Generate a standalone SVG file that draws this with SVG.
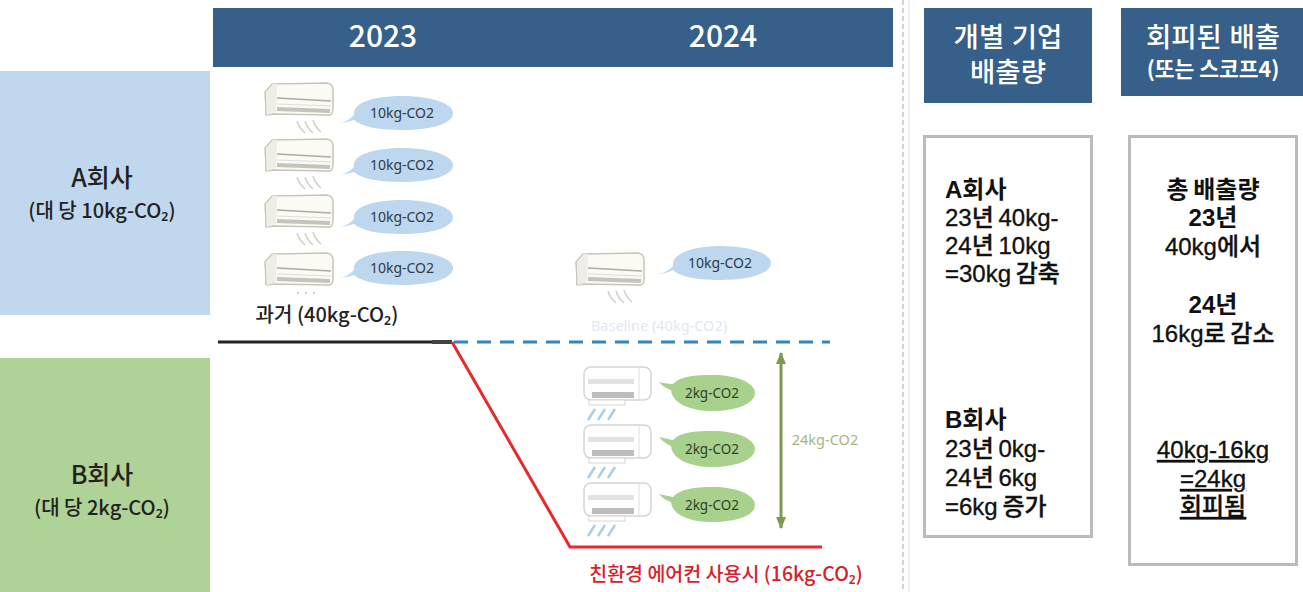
<svg xmlns="http://www.w3.org/2000/svg" xmlns:xlink="http://www.w3.org/1999/xlink" width="1303" height="592" viewBox="0 0 1303 592">
<style>
text{font-family:"Noto Sans CJK KR","Noto Sans",sans-serif;text-anchor:middle;fill:#111}
.hd{fill:#fff;font-size:30px;font-weight:500}
.hk{fill:#fff;font-size:27.500px;font-weight:500;font-family:"Liberation Sans","Noto Sans CJK KR",sans-serif}
.hs{fill:#fff;font-size:21.500px;font-weight:700}
.co{font-size:25px;font-weight:500;fill:#222}
.cs{font-size:20px;font-weight:500;fill:#222}
.bt{font-size:14px;fill:#2f3b4a;font-family:"Noto Sans",sans-serif}
.gt{font-size:13.500px;fill:#2c3f24;font-family:"Noto Sans",sans-serif}
.bd{font-size:24px;font-weight:500;word-spacing:-2px;font-family:"Liberation Sans","Noto Sans CJK KR",sans-serif;stroke:#111;stroke-width:0.350px}
.l{text-anchor:start}
.b{font-weight:700;stroke-width:0}
.hdb{fill:#365f8a}
.box{fill:#fff;stroke:#bbb;stroke-width:3}
.wb{fill:none;stroke:#cfcfcc;stroke-width:1.500}
.wg{fill:none;stroke:#a9cfe6;stroke-width:2.500}
.soft{filter:url(#soft)}
</style>
<defs>
<filter id="soft" x="-5%" y="-5%" width="110%" height="110%"><feGaussianBlur stdDeviation="0.500"/></filter>
<marker id="ah" viewBox="0 0 12 10" refX="11" refY="5" markerWidth="12" markerHeight="10" markerUnits="userSpaceOnUse" orient="auto-start-reverse"><path d="M0 0L12 5L0 10Z" fill="#7d9a50"/></marker>
<g id="acA">
<path d="M7 2L62 1Q68 2 68 8V27Q68 34 62 33L8 32L2 33Q0 33 1 28L0 10Z" fill="#fbfaf3" stroke="#c6c6bd" stroke-width="1.500"/>
<path d="M1 10L8 2L12 2L11 30L2 33Z" fill="#eeeee6"/>
<path d="M12 16L66 19" stroke="#aaa" stroke-width="1.500" fill="none"/>
<path d="M12 22L66 24" stroke="#ddd" stroke-width="1" fill="none"/>
<path d="M12 27L65 29" stroke="#c4c4bd" stroke-width="4" fill="none"/>
</g>
<g id="acB">
<rect x="0" y="0" width="67" height="33" rx="7" fill="#fff" stroke="#d5d5d5" stroke-width="1.500"/>
<path d="M55 0.500V32" stroke="#dedede" stroke-width="1"/>
<rect x="4" y="12" width="46" height="5" fill="#e2e2e2"/>
<rect x="8" y="25" width="42" height="6" fill="#bdbdbd"/>
<rect x="5" y="33" width="36" height="5" fill="#fff" stroke="#d5d5d5"/>
<path d="M4 53L11 42M14 53L21 42M24 53L31 42" class="wg"/>
</g>
<path id="wind" d="M0 0Q2 7 8 12M8 0Q10 7 16 12M16 -1Q18 6 24 11" class="wb"/>
</defs>
<rect width="1303" height="592" fill="#fff"/>

<g id="header-years">
<rect class="hdb" x="213" y="8" width="680" height="59"/>
<text class="hd" x="383" y="47">2023</text>
<text class="hd" x="723" y="47">2024</text>
</g>
<g id="company-a">
<rect x="0" y="71" width="210" height="244" fill="#c1d7ed"/>
<text class="co" x="102" y="187">A회사</text>
<text class="cs" x="102" y="218">(대 당 10kg-CO₂)</text>
</g>
<g id="company-b">
<rect x="0" y="358" width="210" height="234" fill="#afd296"/>
<text class="co" x="102" y="484">B회사</text>
<text class="cs" x="102" y="515">(대 당 2kg-CO₂)</text>
</g>

<g id="ac-2023">
<g class="soft"><use xlink:href="#acA" x="265" y="82"/><use xlink:href="#wind" x="297" y="121"/>
<use xlink:href="#acA" x="265" y="138"/><use xlink:href="#wind" x="297" y="177"/>
<use xlink:href="#acA" x="265" y="194"/><use xlink:href="#wind" x="297" y="233"/>
<use xlink:href="#acA" x="265" y="252"/>
<path d="M297 293h2M305 293h2M313 293h2" stroke="#cfcfcc" stroke-width="2"/>
<path d="M338 123Q348 122 354 115C352 102 376 96 402 96C430 96 453 103 453 113C453 124 430 130 402 130C380 130 362 127 354 120Q346 123 338 123Z" fill="#bdd7ee"/>
<path d="M338 175Q348 174 354 167C352 154 376 148 402 148C430 148 453 155 453 165C453 176 430 182 402 182C380 182 362 179 354 172Q346 175 338 175Z" fill="#bdd7ee"/>
<path d="M338 227Q348 226 354 219C352 206 376 200 402 200C430 200 453 207 453 217C453 228 430 234 402 234C380 234 362 231 354 224Q346 227 338 227Z" fill="#bdd7ee"/>
<path d="M338 278Q348 277 354 270C352 257 376 251 402 251C430 251 453 258 453 268C453 279 430 285 402 285C380 285 362 282 354 275Q346 278 338 278Z" fill="#bdd7ee"/></g>
<text class="bt" x="402" y="118">10kg-CO2</text>
<text class="bt" x="402" y="170">10kg-CO2</text>
<text class="bt" x="402" y="222">10kg-CO2</text>
<text class="bt" x="402" y="273">10kg-CO2</text>
<text class="cs" x="327" y="322">과거 (40kg-CO₂)</text>
</g>

<g id="ac-2024-baseline">
<g class="soft"><use xlink:href="#acA" x="576" y="252"/><use xlink:href="#wind" x="608" y="291"/>
<path d="M657 274Q667 273 673 266C671 253 695 246 720 246C748 246 771 253 771 263C771 274 748 280 720 280C698 280 680 277 673 270Q665 274 657 274Z" fill="#bdd7ee"/></g>
<text class="bt" x="720" y="268">10kg-CO2</text>
<text x="659" y="331" style="font-size:14.500px;fill:#dfe8f3;font-family:'Noto Sans',sans-serif">Baseline (40kg-CO2)</text>
</g>

<g id="ac-2024-green">
<g class="soft"><use xlink:href="#acB" x="584" y="367"/>
<path d="M659 382Q668 384 673 384C680 376 695 375 712 375C738 375 755 383 755 393C755 403 738 411 712 411C690 411 672 403 671 390Q664 388 659 382Z" fill="#a9d18e"/>
<use xlink:href="#acB" x="584" y="425"/>
<path d="M659 437Q668 439 673 440C680 432 695 431 712 431C738 431 755 439 755 449C755 459 738 467 712 467C690 467 672 459 671 446Q664 443 659 437Z" fill="#a9d18e"/>
<use xlink:href="#acB" x="584" y="483"/>
<path d="M659 494Q668 496 673 497C680 489 695 487 712 487C738 487 755 495 755 505C755 515 738 522 712 522C690 522 672 515 671 502Q664 500 659 494Z" fill="#a9d18e"/></g>
<text class="gt" x="712" y="398">2kg-CO2</text>
<text class="gt" x="712" y="454">2kg-CO2</text>
<text class="gt" x="712" y="510">2kg-CO2</text>
</g>

<g id="connectors" fill="none">
<path d="M218 342H452" stroke="#222" stroke-width="3"/>
<path d="M432 342H452" stroke="#444" stroke-width="4"/>
<path d="M454 342H830" stroke="#2f86c4" stroke-width="3" stroke-dasharray="14 9"/>
<path d="M452 342L570 547H822" stroke="#e8282e" stroke-width="3"/>
<path d="M781 353V528" stroke="#7d9a50" stroke-width="3" marker-start="url(#ah)" marker-end="url(#ah)"/>
<path d="M903 0V592" stroke="#aaa" stroke-width="1" stroke-dasharray="5 3"/>
<path d="M909 0V592" stroke="#ddd" stroke-width="1"/>
</g>
<g id="labels">
<text x="825" y="445" style="font-size:14.500px;fill:#a6b582;font-family:'Noto Sans',sans-serif">24kg-CO2</text>
<text x="726" y="581" style="font-size:19.500px;font-weight:500;fill:#d8202a">친환경 에어컨 사용시 (16kg-CO₂)</text>
</g>

<g id="header-individual">
<rect class="hdb" x="924" y="8" width="168" height="95"/>
<text class="hk" x="1008" y="47">개별 기업</text>
<text class="hk" x="1008" y="82">배출량</text>
</g>
<g id="header-avoided">
<rect class="hdb" x="1121" y="8" width="182" height="88"/>
<text class="hk" x="1213" y="47">회피된 배출</text>
<text class="hs" x="1213" y="77">(또는 스코프4)</text>
</g>

<g id="box-individual">
<rect class="box" x="924.500" y="136.500" width="167" height="400"/>
<text class="bd l b" x="945" y="198">A회사</text>
<text class="bd l" x="945" y="226">23년 40kg-</text>
<text class="bd l" x="945" y="254">24년 10kg</text>
<text class="bd l" x="945" y="282">=30kg 감축</text>
<text class="bd l b" x="945" y="428">B회사</text>
<text class="bd l" x="945" y="457">23년 0kg-</text>
<text class="bd l" x="945" y="486">24년 6kg</text>
<text class="bd l" x="945" y="515">=6kg 증가</text>
</g>
<g id="box-avoided">
<rect class="box" x="1129.500" y="136.500" width="167" height="428"/>
<text class="bd b" x="1213" y="198">총 배출량</text>
<text class="bd b" x="1213" y="226">23년</text>
<text class="bd" x="1213" y="255">40kg에서</text>
<text class="bd b" x="1213" y="313">24년</text>
<text class="bd" x="1213" y="342">16kg로 감소</text>
<text class="bd" x="1213" y="458" text-decoration="underline">40kg-16kg</text>
<text class="bd" x="1213" y="487" text-decoration="underline">=24kg</text>
<text class="bd" x="1213" y="515" text-decoration="underline">회피됨</text>
</g>
</svg>
